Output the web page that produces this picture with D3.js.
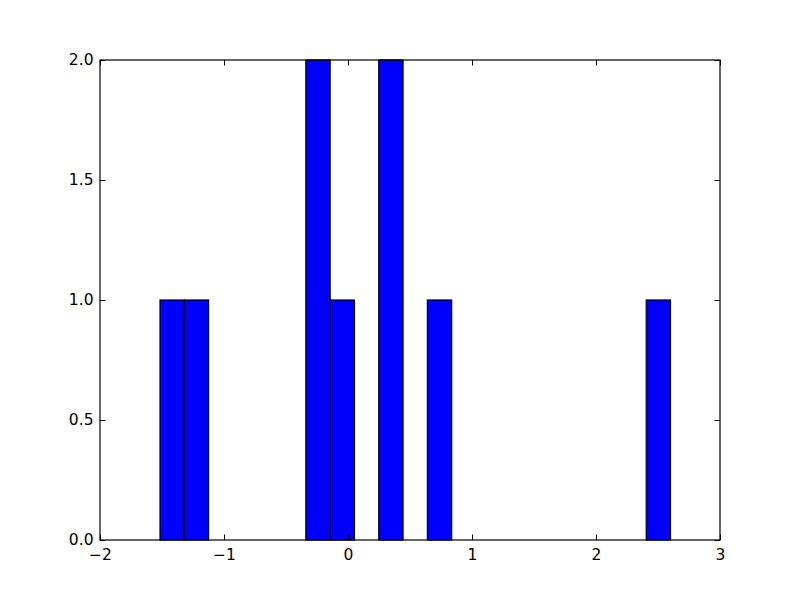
<!DOCTYPE html>
<html>
<head>
<meta charset="utf-8">
<script src="https://cdn.jsdelivr.net/npm/d3@7"></script>
<style>
body{margin:0;background:#fff;}
svg{display:block;}
text{font-family:"DejaVu Sans",sans-serif;font-size:15.5px;fill:#000;}
</style>
</head>
<body>
<svg id="chart" width="800" height="600"></svg>
<script>
// Histogram bars: left edge of each non-empty bin and its count
const binLefts = [-1.516, -1.320, -0.340, -0.144, 0.248, 0.640, 2.405];
const counts   = [1, 1, 2, 1, 2, 1, 1];
const binWidth = 0.196;
const xTicks = [-2, -1, 0, 1, 2, 3];
const yTicks = [0.0, 0.5, 1.0, 1.5, 2.0];
const xDomain = [-2, 3];
const yDomain = [0, 2];

const margin = {left:100, right:80, top:60, bottom:60};
const W = 800, H = 600;
const svg = d3.select("#chart");
const x = d3.scaleLinear().domain(xDomain).range([margin.left, W - margin.right]);
const y = d3.scaleLinear().domain(yDomain).range([H - margin.bottom, margin.top]);

const bars = binLefts.map((b,i)=>({x0:b, x1:b+binWidth, c:counts[i]}));
svg.append("g").selectAll("rect").data(bars).join("rect")
  .attr("x", d=>x(d.x0))
  .attr("y", d=>y(d.c))
  .attr("width", d=>x(d.x1)-x(d.x0))
  .attr("height", d=>y(0)-y(d.c))
  .attr("fill", "#0000ff")
  .attr("stroke", "#000")
  .attr("stroke-width", 1.2);

const tickLen = 5.5;
const minus = s => s.replace("-", "\u2212");
// bottom axis
const gx = svg.append("g").attr("transform", `translate(0,${y(0)})`)
  .call(d3.axisBottom(x).tickValues(xTicks).tickSize(-tickLen).tickPadding(8.5).tickFormat(d=>minus(d3.format("d")(d))));
// top axis
const gxt = svg.append("g").attr("transform", `translate(0,${y(2)})`)
  .call(d3.axisTop(x).tickValues(xTicks).tickSize(-tickLen).tickFormat(""));
// left axis
const gy = svg.append("g").attr("transform", `translate(${x(-2)},0)`)
  .call(d3.axisLeft(y).tickValues(yTicks).tickSize(-tickLen).tickPadding(6.5).tickFormat(d3.format(".1f")));
// right axis
const gyr = svg.append("g").attr("transform", `translate(${x(3)},0)`)
  .call(d3.axisRight(y).tickValues(yTicks).tickSize(-tickLen).tickFormat(""));

[gx,gxt,gy,gyr].forEach(g=>{
  g.select(".domain").remove();
  g.selectAll(".tick line").attr("stroke","#000").attr("stroke-width",1);
  g.selectAll("text").style("font-family","DejaVu Sans").style("font-size","15.5px").attr("fill","#000");
});

// frame
svg.append("rect")
  .attr("x", x(-2)).attr("y", y(2))
  .attr("width", x(3)-x(-2)).attr("height", y(0)-y(2))
  .attr("fill","none").attr("stroke","#000").attr("stroke-width",1.2);
</script>
</body>
</html>
